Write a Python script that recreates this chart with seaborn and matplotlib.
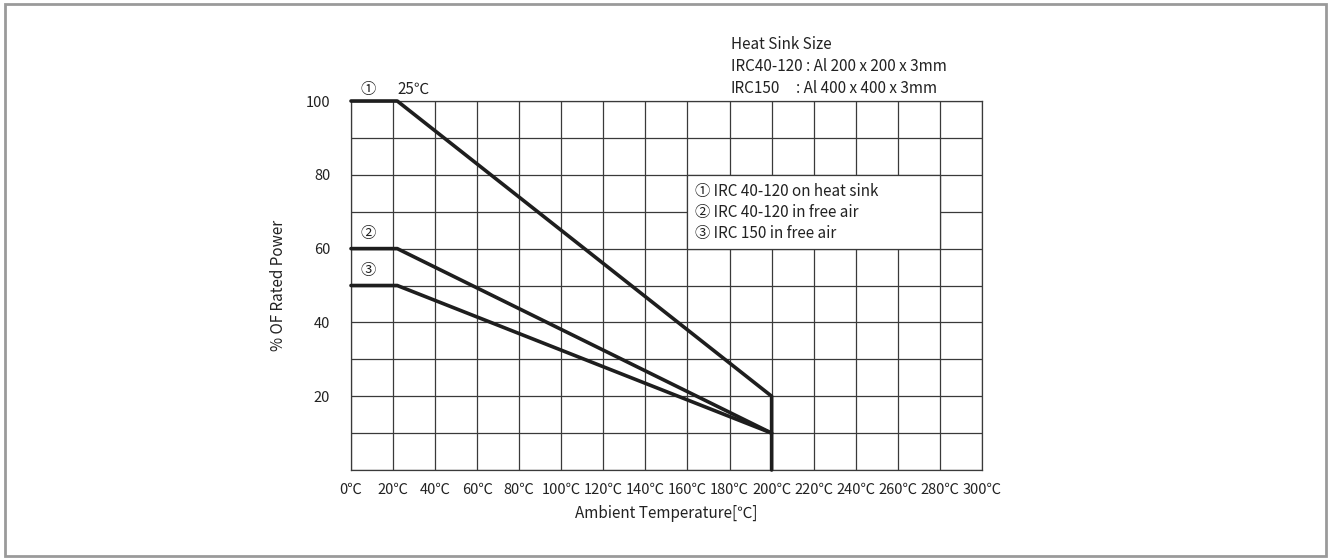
import matplotlib
matplotlib.use("Agg")
import matplotlib.pyplot as plt
import seaborn as sns
import pandas as pd
from matplotlib.patches import Rectangle

sns.set_theme(style="white")
plt.rcParams['font.family'] = ['Noto Sans CJK KR', 'DejaVu Sans']

# ---- data ----
temp_1 = [0, 22, 200, 200]
power_1 = [100, 100, 20, 0]
temp_2 = [0, 22, 200]
power_2 = [60, 60, 10]
temp_3 = [0, 22, 200]
power_3 = [50, 50, 10]
x_ticks = [0, 20, 40, 60, 80, 100, 120, 140, 160, 180, 200, 220, 240, 260, 280, 300]
x_tick_labels = [f"{t}℃" for t in x_ticks]
y_ticks = [20, 40, 60, 80, 100]
legend_lines = ["① IRC 40-120 on heat sink", "② IRC 40-120 in free air", "③ IRC 150 in free air"]

fig = plt.figure(figsize=(13.3, 5.59), dpi=100)
fig.patch.set_facecolor("white")
# outer border
fig.add_artist(Rectangle((0.004, 0.006), 0.993, 0.987, transform=fig.transFigure,
                         fill=False, edgecolor="#9a9a9a", linewidth=2))

ax = fig.add_axes([0.2639, 0.1592, 0.4744, 0.6601])
ax.set_xlim(0, 300)
ax.set_ylim(0, 100)

grid_c = "#3a3a3a"
for xv in range(0, 301, 20):
    ax.axvline(xv, color=grid_c, lw=0.9, zorder=1)
for yv in range(0, 101, 10):
    ax.axhline(yv, color=grid_c, lw=0.9, zorder=1)
for s in ax.spines.values():
    s.set_color(grid_c)
    s.set_linewidth(0.9)

line_c = "#1e1e1e"
for xs, ys in [(temp_1, power_1), (temp_2, power_2), (temp_3, power_3)]:
    df = pd.DataFrame({"x": xs, "y": ys})
    sns.lineplot(data=df, x="x", y="y", sort=False, estimator=None, ax=ax,
                 color=line_c, lw=2.6, zorder=4, clip_on=False)

ax.set_xticks(x_ticks)
ax.set_xticklabels(x_tick_labels)
ax.set_yticks(y_ticks)
ax.tick_params(axis="both", length=0, labelsize=10.5, colors="#222222")
ax.tick_params(axis="x", pad=9)
ax.tick_params(axis="y", pad=15)
ax.set_xlabel("Ambient Temperature[℃]", fontsize=11, color="#222222", labelpad=6)
ax.set_ylabel("% OF Rated Power", fontsize=11, color="#222222", labelpad=13)

# legend box
ax.add_patch(Rectangle((160, 60), 120, 20, facecolor="white", edgecolor=grid_c, lw=0.9, zorder=3))
for i, t in enumerate(legend_lines):
    ax.text(163.5, 75.4 - i * 5.7, t, fontsize=11, color="#222222", va="center", ha="left", zorder=5)

# curve labels
ax.text(8, 103.2, "①", fontsize=11, color="#222222", ha="center", va="center")
ax.text(22, 103.2, "25℃", fontsize=11, color="#222222", ha="left", va="center")
ax.text(8, 64.2, "②", fontsize=11, color="#222222", ha="center", va="center")
ax.text(8, 54.2, "③", fontsize=11, color="#222222", ha="center", va="center")

# heat sink note
ax.text(180.5, 115.3, "Heat Sink Size", fontsize=11, color="#222222", ha="left", va="center", clip_on=False)
ax.text(180.5, 109.4, "IRC40-120 : Al 200 x 200 x 3mm", fontsize=11, color="#222222", ha="left", va="center", clip_on=False)
ax.text(180.5, 103.5, "IRC150", fontsize=11, color="#222222", ha="left", va="center", clip_on=False)
ax.text(211.5, 103.5, ": Al 400 x 400 x 3mm", fontsize=11, color="#222222", ha="left", va="center", clip_on=False)

fig.savefig("out.png", dpi=100)
